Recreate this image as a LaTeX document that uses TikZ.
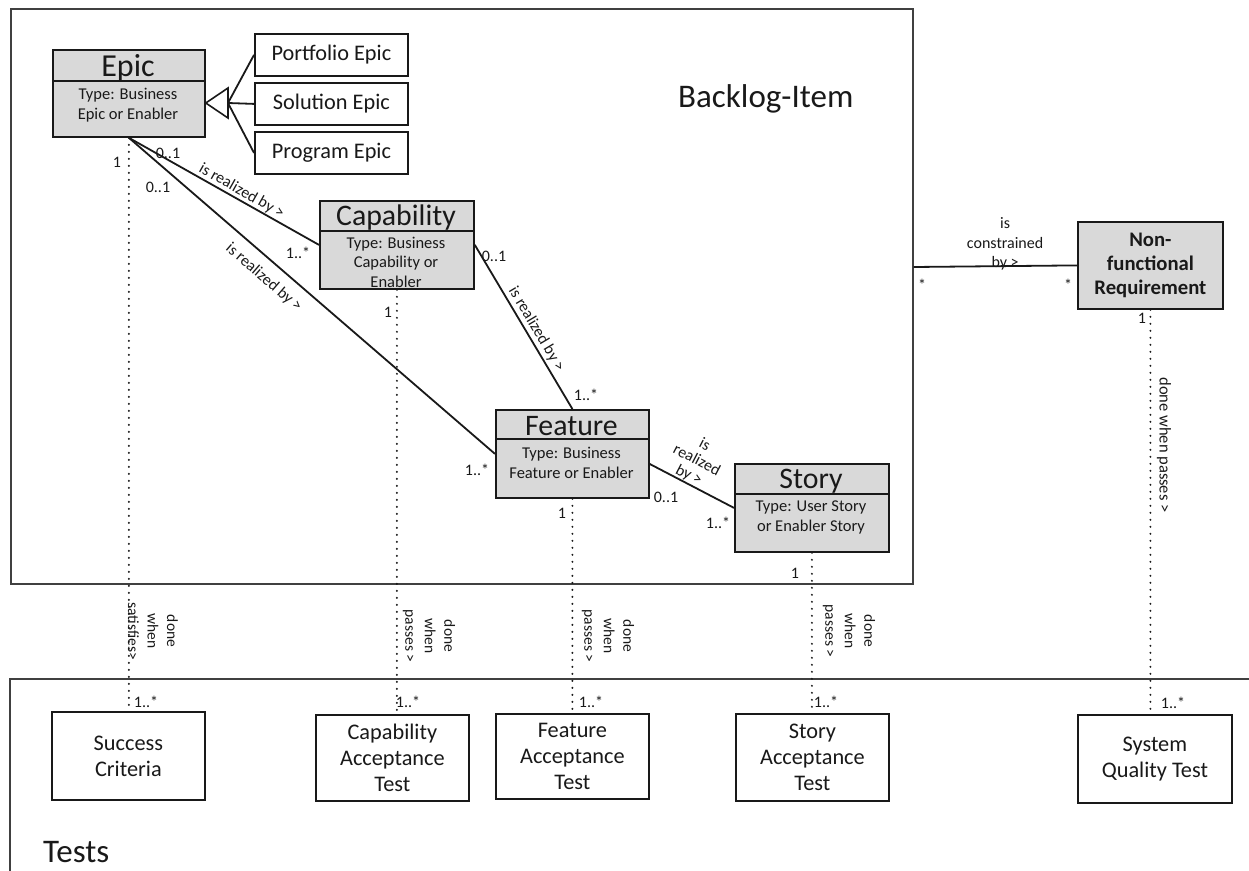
\documentclass[tikz,border=0pt]{standalone}
\usepackage{fontspec}
\setmainfont{Carlito}
\usetikzlibrary{calc}
\definecolor{clsgray}{RGB}{217,217,217}
\definecolor{ink}{RGB}{25,25,25}
\newcommand\myfs[2]{\fontsize{#1}{#2}\selectfont}
\begin{document}
\begin{tikzpicture}[
  x=1pt, y=-1pt,
  frameline/.style={draw=black!75, line width=1.6pt},
  clsbox/.style={draw=ink, line width=1.8pt, fill=clsgray, inner sep=0pt, anchor=north west},
  plainbox/.style={draw=ink, line width=1.8pt, fill=white, inner sep=0pt, anchor=north west, font=\myfs{22.3}{26}, align=center, text=ink},
  divider/.style={draw=ink, line width=1.8pt},
  clstitle/.style={font=\myfs{29.8}{34}, anchor=base, inner sep=0pt, text=ink},
  clsbody/.style={font=\myfs{16.5}{20}, anchor=base, align=center, inner sep=0pt, text=ink},
  mult/.style={font=\myfs{16}{18}, inner sep=0pt, text=ink},
  assoc/.style={draw=ink, line width=1.8pt},
  dotline/.style={draw=ink, line width=2.2pt, dash pattern=on 0pt off 7pt, line cap=round},
  rlabel/.style={font=\myfs{16}{17}, align=center, inner sep=0pt, text=ink},
  vlabel/.style={font=\myfs{15.5}{19.5}, align=center, rotate=-90, inner sep=0pt, text=ink},
]
\useasboundingbox (0,0) rectangle (1249,870);

% frames
\node[frameline, minimum width=902pt, minimum height=575pt, anchor=north west, inner sep=0pt] (backlog) at (10,8) {};
\draw[frameline] (10,872) -- (10,679) -- (1251,679);
\node[font=\myfs{33}{40}, anchor=base west, inner sep=0pt, text=ink] (backlogT) at (678,107) {Backlog-Item};
\node[font=\myfs{33}{38}, anchor=base west, inner sep=0pt, text=ink] (testsT) at (43,862) {Tests};

% Epic
\node[clsbox, minimum width=152pt, minimum height=87pt] (epic) at (52,49) {};
\draw[divider] (epic.west |- 0,81) -- (epic.east |- 0,81);
\node[clstitle, font=\myfs{32}{36}] (epicT) at (128,76) {Epic};
\node[clsbody] (epicB) at (128,119) {Type: Business\\Epic or Enabler};

% subclasses
\node[plainbox, minimum width=153pt, minimum height=42pt] (portfolio) at (254,33) {Portfolio Epic};
\node[plainbox, minimum width=153pt, minimum height=42pt] (solution) at (254,82) {Solution Epic};
\node[plainbox, minimum width=153pt, minimum height=42pt] (program) at (254,131) {Program Epic};
\coordinate (genapex) at (epic.east |- 0,103);
\coordinate (genbase) at (228,103);
\draw[assoc] (genbase) -- (portfolio.west);
\draw[assoc] (genbase) -- (solution.west);
\draw[assoc] (genbase) -- (program.west);
\draw[draw=ink, line width=1.6pt, fill=white, line join=miter] (genapex) -- (228,88) -- (228,118) -- cycle;

% Capability
\node[clsbox, minimum width=154pt, minimum height=88pt] (cap) at (319,200) {};
\draw[divider] (cap.west |- 0,231) -- (cap.east |- 0,231);
\node[clstitle] (capT) at (396,225) {Capability};
\node[clsbody, font=\myfs{16.5}{19.5}] (capB) at (396,287) {Type: Business\\Capability or\\Enabler};

% Feature
\node[clsbox, minimum width=153pt, minimum height=88pt] (feat) at (495,409) {};
\draw[divider] (feat.west |- 0,439) -- (feat.east |- 0,439);
\node[clstitle] (featT) at (571.5,435) {Feature};
\node[clsbody] (featB) at (571.5,478) {Type: Business\\Feature or Enabler};

% Story
\node[clsbox, minimum width=154pt, minimum height=88pt] (story) at (734,463) {};
\draw[divider] (story.west |- 0,494) -- (story.east |- 0,494);
\node[clstitle] (storyT) at (811,488) {Story};
\node[clsbody] (storyB) at (811,531) {Type: User Story\\or Enabler Story};

% NFR
\node[clsbox, minimum width=145pt, minimum height=87pt, font=\bfseries\myfs{20.7}{24}, align=center, text=ink] (nfr) at (1077,221) {Non-\\functional\\Requirement};

% tests
\node[plainbox, minimum width=153pt, minimum height=88pt] (sc) at (51,711) {Success\\Criteria};
\node[plainbox, minimum width=153pt, minimum height=86pt] (cat) at (315,714) {Capability\\Acceptance\\Test};
\node[plainbox, minimum width=153pt, minimum height=85pt] (fat) at (495,713) {Feature\\Acceptance\\Test};
\node[plainbox, minimum width=153pt, minimum height=87pt] (sat) at (735,713) {Story\\Acceptance\\Test};
\node[plainbox, minimum width=154pt, minimum height=88pt] (sqt) at (1077,714) {System\\Quality Test};

% associations
\draw[assoc] (epic.south) -- (cap.west) node[pos=0.57, sloped, above=1pt, rlabel] (l1) {is realized by >};
\draw[assoc] (epic.south) -- (feat.west) node[pos=0.40, sloped, below=10pt, rlabel] (l2) {is realized by >};
\draw[assoc] (cap.east) -- (feat.north) node[pos=0.545, sloped, above=2pt, rlabel] (l3) {is realized by >};
\draw[assoc] (feat.east |- 0,464) -- (story.west) node[pos=0.42, sloped, above=0pt, rlabel] (l4) {is\\realized\\by >};
\draw[assoc] (backlog.east |- 0,267) -- (nfr.west) node[pos=0.56, above=-5pt, rlabel, font=\myfs{16}{19.5}] (l5) {is\\constrained\\by >};

% dotted "done when" links
\draw[dotline] (epic.south) -- (epic.south |- sc.north);
\draw[dotline] (cap.south) -- (cap.south |- cat.north);
\draw[dotline] (feat.south) -- (feat.south |- fat.north);
\draw[dotline] (story.south) -- (story.south |- sat.north);
\draw[dotline] (nfr.south) -- (nfr.south |- sqt.north);
\node[vlabel] (v1) at (153,631) {done\\when\\satisfies>};
\node[vlabel] (v2) at (429,636) {done\\when\\passes >};
\node[vlabel] (v3) at (608,636) {done\\when\\passes >};
\node[vlabel] (v4) at (849,631) {done\\when\\passes >};
\node[vlabel, font=\myfs{16.5}{19}] (v5) at (1164,445) {done when passes >};

% multiplicities
\node[mult] (m1) at (117,162) {1};
\node[mult] (m2) at (146,702) {1..*};
\node[mult] (m3) at (388,312) {1};
\node[mult] (m4) at (408,702) {1..*};
\node[mult] (m5) at (562,513) {1};
\node[mult] (m6) at (591,702) {1..*};
\node[mult] (m7) at (795,573) {1};
\node[mult] (m8) at (826,702) {1..*};
\node[mult] (m9) at (1142,318) {1};
\node[mult] (m10) at (1173,703) {1..*};
\node[mult] (m11) at (168,153) {0..1};
\node[mult] (m12) at (158,187) {0..1};
\node[mult] (m13) at (298,253) {1..*};
\node[mult] (m14) at (477,470) {1..*};
\node[mult] (m15) at (494,256) {0..1};
\node[mult] (m16) at (586,395) {1..*};
\node[mult] (m17) at (666,497) {0..1};
\node[mult] (m18) at (718,523) {1..*};
\node[mult] (m19) at (922,285) {*};
\node[mult] (m20) at (1068,285) {*};
\end{tikzpicture}
\end{document}
